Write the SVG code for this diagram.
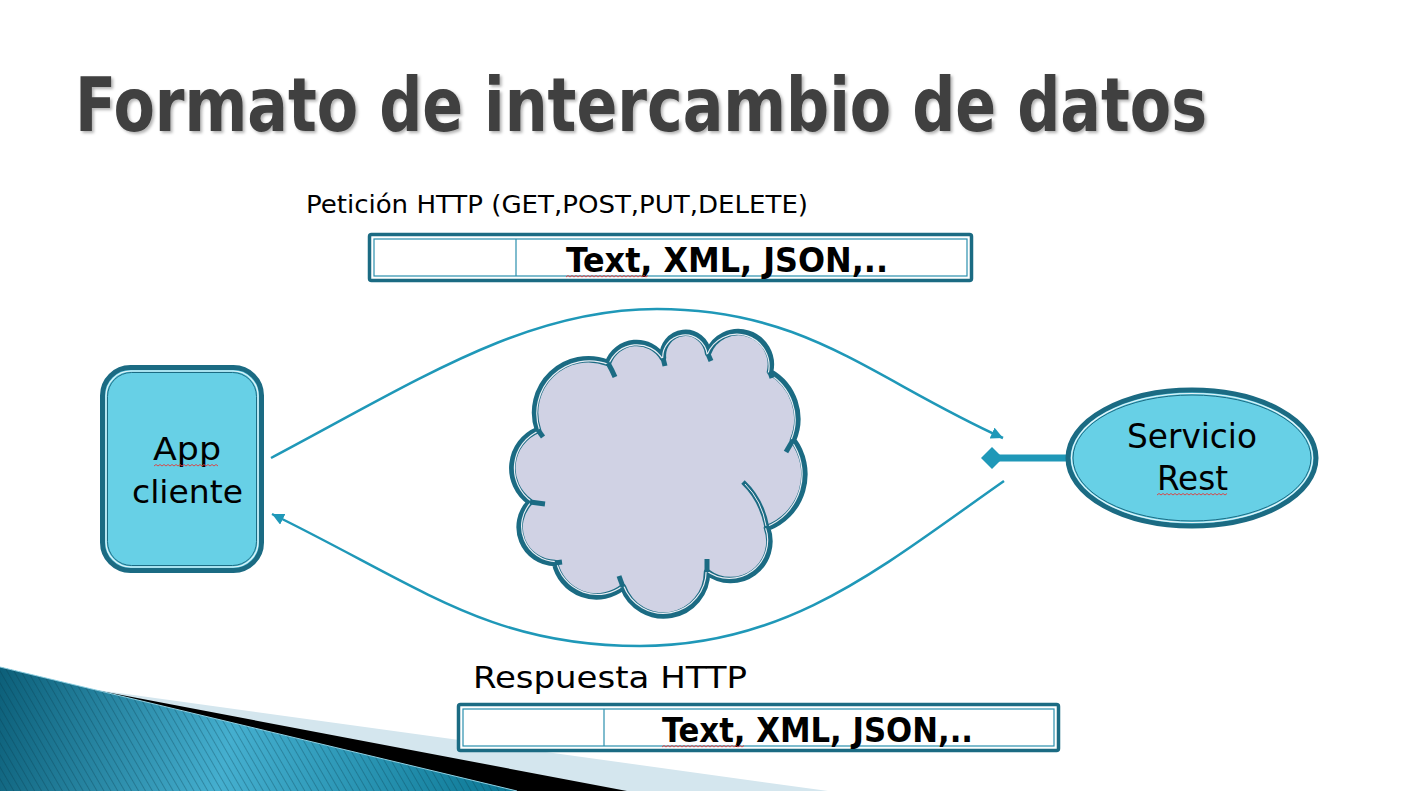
<svg xmlns="http://www.w3.org/2000/svg" width="1405" height="791" viewBox="0 0 1405 791">
  <style>
    .txt { font-family: "DejaVu Sans", sans-serif; font-stretch: condensed; fill: #000; }
    .title { font-family: "DejaVu Sans", sans-serif; font-stretch: condensed; font-weight: bold; fill: #404040; }
    .bold { font-weight: bold; }
    .edge { fill: none; stroke: #1f98b8; stroke-width: 2.5; }
    .outer { stroke: #1b6b83; stroke-width: 5; }
    .hair { fill: none; stroke: #e9f4f8; stroke-width: 1.2; }
    .inner { fill: none; stroke: #1b6b83; stroke-width: 1; }
    .tbl-out { fill: #fff; stroke: #1b6b83; stroke-width: 3.5; }
    .tbl-in { fill: none; stroke: #2a8fae; stroke-width: 1.2; }
    .squig { fill: none; stroke: #e03a3a; stroke-width: 0.9; }
    .cloud-line { fill: none; stroke: #1b6b83; stroke-width: 6.5; stroke-linejoin: round; }
    .cloud-hair { fill: none; stroke: #e9eef5; stroke-width: 1.2; }
  </style>
  <defs>
    <filter id="shadow" x="-5%" y="-20%" width="110%" height="150%">
      <feDropShadow dx="2" dy="2" stdDeviation="1.5" flood-color="#000" flood-opacity="0.3"/>
    </filter>
    <marker id="arrow" markerUnits="userSpaceOnUse" markerWidth="14" markerHeight="12" refX="12" refY="6" orient="auto">
      <path d="M0,0 L12,6 L0,12 z" fill="#1f98b8"/>
    </marker>
    <linearGradient id="tealGrad" gradientUnits="userSpaceOnUse" x1="0" y1="667" x2="520" y2="791">
      <stop offset="0" stop-color="#0c5f79"/>
      <stop offset="0.45" stop-color="#45afcf"/>
      <stop offset="1" stop-color="#0a7693"/>
    </linearGradient>
    <pattern id="stripes" patternUnits="userSpaceOnUse" width="6" height="6" patternTransform="rotate(-30)">
      <rect x="0" y="0" width="1" height="6" fill="#06384a" fill-opacity="0.3"/>
    </pattern>
  </defs>

  <rect width="1405" height="791" fill="#fff"/>

  <!-- corner decoration -->
  <g id="corner">
    <polygon points="90,689 828,791 0,791 0,667" fill="#d4e6ee"/>
    <polygon points="90,689 627,791 0,791 0,667" fill="#000"/>
    <polygon points="0,667 517,791 0,791" fill="url(#tealGrad)"/>
    <polygon points="0,667 517,791 0,791" fill="url(#stripes)"/>
    <line x1="0" y1="667" x2="517" y2="791" stroke="#8fd0e2" stroke-width="1"/>
  </g>

  <!-- title -->
  <text class="title" x="75" y="131" font-size="74" textLength="1132" lengthAdjust="spacingAndGlyphs" filter="url(#shadow)">Formato de intercambio de datos</text>

  <!-- request label and payload table -->
  <g id="request">
    <text class="txt" x="306" y="213" font-size="24" textLength="502" lengthAdjust="spacingAndGlyphs">Petición HTTP (GET,POST,PUT,DELETE)</text>
    <rect class="tbl-out" x="369.5" y="234.5" width="602" height="46" rx="2"/>
    <rect class="tbl-in" x="374" y="239" width="593" height="37"/>
    <line x1="516" y1="239" x2="516" y2="276" stroke="#2a8fae" stroke-width="1.2"/>
    <text class="txt bold" x="566" y="272" font-size="34" textLength="322" lengthAdjust="spacingAndGlyphs">Text, XML, JSON,..</text>
    <path class="squig" d="M566,277 l2,-1.5 l2,1.5 l2,-1.5 l2,1.5 l2,-1.5 l2,1.5 l2,-1.5 l2,1.5 l2,-1.5 l2,1.5 l2,-1.5 l2,1.5 l2,-1.5 l2,1.5 l2,-1.5 l2,1.5 l2,-1.5 l2,1.5 l2,-1.5 l2,1.5 l2,-1.5 l2,1.5 l2,-1.5 l2,1.5 l2,-1.5 l2,1.5 l2,-1.5 l2,1.5 l2,-1.5 l2,1.5 l2,-1.5 l2,1.5 l2,-1.5 l2,1.5 l2,-1.5 l2,1.5 l2,-1.5 l2,1.5 l2,-1.5 l2,1.5 l2,-1.5"/>
  </g>

  <!-- response label and payload table -->
  <g id="response">
    <text class="txt" x="473" y="688" font-size="31" textLength="274" lengthAdjust="spacingAndGlyphs">Respuesta HTTP</text>
    <rect class="tbl-out" x="458.5" y="704.5" width="600" height="46" rx="2"/>
    <rect class="tbl-in" x="463" y="709" width="591" height="37"/>
    <line x1="604" y1="709" x2="604" y2="746" stroke="#2a8fae" stroke-width="1.2"/>
    <text class="txt bold" x="662" y="742" font-size="34" textLength="311" lengthAdjust="spacingAndGlyphs">Text, XML, JSON,..</text>
    <path class="squig" d="M662,747 l2,-1.5 l2,1.5 l2,-1.5 l2,1.5 l2,-1.5 l2,1.5 l2,-1.5 l2,1.5 l2,-1.5 l2,1.5 l2,-1.5 l2,1.5 l2,-1.5 l2,1.5 l2,-1.5 l2,1.5 l2,-1.5 l2,1.5 l2,-1.5 l2,1.5 l2,-1.5 l2,1.5 l2,-1.5 l2,1.5 l2,-1.5 l2,1.5 l2,-1.5 l2,1.5 l2,-1.5 l2,1.5 l2,-1.5 l2,1.5 l2,-1.5 l2,1.5 l2,-1.5 l2,1.5 l2,-1.5 l2,1.5 l2,-1.5 l2,1.5 l2,-1.5"/>
  </g>

  <!-- connectors -->
  <g id="connectors">
    <path class="edge" d="M271,458 C421,378.5 527,309 657,309 C807,309 873,379.5 1003,438" marker-end="url(#arrow)"/>
    <path class="edge" d="M1004,481 C884,565 790,646 640,646 C490,646 422,587.5 272,514" marker-end="url(#arrow)"/>
    <line x1="998" y1="458" x2="1070" y2="458" stroke="#1f98b8" stroke-width="7"/>
    <polygon points="981,458 992,447 1003,458 992,469" fill="#1f98b8"/>
  </g>

  <!-- network cloud -->
  <g id="cloud">
    <path d="M538,430 A53.3,53.3 0 0 1 608,363 A30.5,30.5 0 0 1 663,358 A22.6,22.6 0 0 1 708,353 A32.5,32.5 0 0 1 770,372 A54,54 0 0 1 793,440 A57.3,57.3 0 0 1 767,528 A38.7,38.7 0 0 1 707,572 A43.3,43.3 0 0 1 623,587 A42.4,42.4 0 0 1 555,563 A35.8,35.8 0 0 1 530,502 A41.2,41.2 0 0 1 538,430 Z" fill="#d0d2e4"/>
    <path class="cloud-line" d="M538,430 A53.3,53.3 0 0 1 608,363 A30.5,30.5 0 0 1 663,358 A22.6,22.6 0 0 1 708,353 A32.5,32.5 0 0 1 770,372 A54,54 0 0 1 793,440 A57.3,57.3 0 0 1 767,528 A38.7,38.7 0 0 1 707,572 A43.3,43.3 0 0 1 623,587 A42.4,42.4 0 0 1 555,563 A35.8,35.8 0 0 1 530,502 A41.2,41.2 0 0 1 538,430 Z"/>
    <path class="cloud-hair" transform="translate(652 470) scale(0.985) translate(-652 -470)" d="M538,430 A53.3,53.3 0 0 1 608,363 A30.5,30.5 0 0 1 663,358 A22.6,22.6 0 0 1 708,353 A32.5,32.5 0 0 1 770,372 A54,54 0 0 1 793,440 A57.3,57.3 0 0 1 767,528 A38.7,38.7 0 0 1 707,572 A43.3,43.3 0 0 1 623,587 A42.4,42.4 0 0 1 555,563 A35.8,35.8 0 0 1 530,502 A41.2,41.2 0 0 1 538,430 Z"/>
    <!-- inner arc stubs -->
    <g fill="none" stroke="#1b6b83" stroke-width="5">
      <path d="M608,363 Q612,370 615,377"/>
      <path d="M663,358 L665,366"/>
      <path d="M708,354 L711,361"/>
      <path d="M770,372 L772,378"/>
      <path d="M793,440 L786,452"/>
      <path d="M743,482 Q762,500 767,528"/>
      <path d="M707,572 L707,559"/>
      <path d="M623,587 L619,576"/>
      <path d="M555,563 L562,562"/>
      <path d="M530,502 L545,504"/>
      <path d="M538,430 L543,437"/>
    </g>
    <path d="M745,484 Q762,501 766,526" fill="none" stroke="#e9eef5" stroke-width="1"/>
  </g>

  <!-- client application -->
  <g id="app-cliente">
    <rect x="102.5" y="367.5" width="159" height="203" rx="28" fill="#67d0e6" class="outer"/>
    <rect x="106" y="371" width="152" height="196" rx="25" class="hair"/>
    <rect x="107.5" y="372.5" width="149" height="193" rx="24" class="inner"/>
    <text class="txt" x="153" y="460" font-size="32" textLength="68" lengthAdjust="spacingAndGlyphs">App</text>
    <text class="txt" x="132" y="503" font-size="32" textLength="111" lengthAdjust="spacingAndGlyphs">cliente</text>
    <path class="squig" d="M154,466 l2,-1.5 l2,1.5 l2,-1.5 l2,1.5 l2,-1.5 l2,1.5 l2,-1.5 l2,1.5 l2,-1.5 l2,1.5 l2,-1.5 l2,1.5 l2,-1.5 l2,1.5 l2,-1.5 l2,1.5 l2,-1.5 l2,1.5 l2,-1.5 l2,1.5 l2,-1.5 l2,1.5 l2,-1.5 l2,1.5 l2,-1.5 l2,1.5 l2,-1.5 l2,1.5 l2,-1.5 l2,1.5 l2,-1.5 l2,1.5"/>
  </g>

  <!-- REST service -->
  <g id="servicio-rest">
    <ellipse cx="1192" cy="458" rx="124" ry="68" fill="#67d0e6" class="outer"/>
    <ellipse cx="1192" cy="458" rx="120.5" ry="64.5" class="hair"/>
    <ellipse cx="1192" cy="458" rx="119" ry="63" class="inner"/>
    <text class="txt" x="1127" y="448" font-size="33" textLength="130" lengthAdjust="spacingAndGlyphs">Servicio</text>
    <text class="txt" x="1157" y="490" font-size="33" textLength="71" lengthAdjust="spacingAndGlyphs">Rest</text>
    <path class="squig" d="M1157,495 l2,-1.5 l2,1.5 l2,-1.5 l2,1.5 l2,-1.5 l2,1.5 l2,-1.5 l2,1.5 l2,-1.5 l2,1.5 l2,-1.5 l2,1.5 l2,-1.5 l2,1.5 l2,-1.5 l2,1.5 l2,-1.5 l2,1.5 l2,-1.5 l2,1.5 l2,-1.5 l2,1.5 l2,-1.5 l2,1.5 l2,-1.5 l2,1.5 l2,-1.5 l2,1.5 l2,-1.5 l2,1.5 l2,-1.5 l2,1.5 l2,-1.5 l2,1.5 l2,-1.5"/>
  </g>
</svg>
